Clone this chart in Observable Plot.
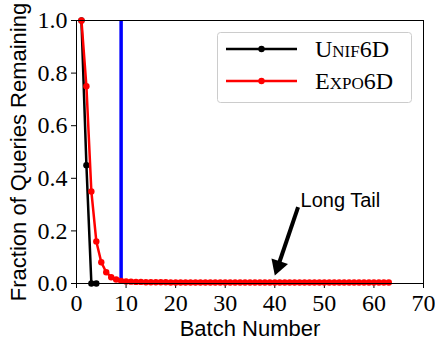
<!DOCTYPE html>
<html>
<head>
<meta charset="utf-8">
<script src="https://cdn.jsdelivr.net/npm/d3@7"></script>
<script src="https://cdn.jsdelivr.net/npm/@observablehq/plot@0.6"></script>
<style>
  body { margin: 0; background: white; }
  #wrap { position: relative; width: 435px; height: 346px; }
  #legend { position: absolute; left: 217px; top: 32px; }
</style>
</head>
<body>
<div id="wrap"></div>
<script>
// ---- data ----
const seriesNames = ["Unif6D", "Expo6D"];
const seriesColors = ["black", "red"];
const unifBatch = [1, 2, 3, 4];
const unifFrac = [1.0, 0.45, 0.0, 0.0];
const expoBatch = [1,2,3,4,5,6,7,8,9,10,11,12,13,14,15,16,17,18,19,20,21,22,23,24,25,26,27,28,29,30,31,32,33,34,35,36,37,38,39,40,41,42,43,44,45,46,47,48,49,50,51,52,53,54,55,56,57,58,59,60,61,62,63];
const expoFrac = [1.0,0.75,0.35,0.16,0.081,0.043,0.024,0.015,0.010,0.008,0.007,0.006,0.006,0.005,0.005,0.005,0.005,0.005,0.004,0.004,0.004,0.004,0.004,0.004,0.004,0.004,0.004,0.004,0.004,0.004,0.004,0.004,0.004,0.004,0.004,0.004,0.004,0.004,0.004,0.004,0.004,0.004,0.004,0.004,0.004,0.004,0.004,0.004,0.004,0.004,0.004,0.004,0.004,0.004,0.004,0.004,0.004,0.004,0.004,0.004,0.004,0.004,0.004];
const markerBatch = [9];
const xTicks = [0, 10, 20, 30, 40, 50, 60, 70];
const yTicks = [0.0, 0.2, 0.4, 0.6, 0.8, 1.0];
const xLabel = "Batch Number";
const yLabel = "Fraction of Queries Remaining";
const noteText = "Long Tail";
const notePos = [45.2, 0.30];
const arrowFrom = [44.7, 0.29];
const arrowHead = [40.67, 0.0665];

const unif = unifBatch.map((b, i) => ({batch: b, frac: unifFrac[i]}));
const expo = expoBatch.map((b, i) => ({batch: b, frac: expoFrac[i]}));

const serif = "'Liberation Serif', 'Times New Roman', serif";
const sans = "'Liberation Sans', Arial, sans-serif";
const fmtY = d3.format(".1f");

const chart = Plot.plot({
  width: 435,
  height: 346,
  marginLeft: 76,
  marginRight: 12,
  marginTop: 20,
  marginBottom: 63,
  style: {background: "white", color: "black", fontSize: "24px"},
  x: {domain: [0, 70]},
  y: {domain: [0, 1]},
  marks: [
    Plot.axisX({ticks: xTicks, tickSize: 5, tickFormat: () => "", label: null}),
    Plot.axisY({ticks: yTicks, tickSize: 5, tickFormat: () => "", label: null}),
    Plot.text(xTicks, {x: d => d, frameAnchor: "bottom", text: d => String(d), dy: 10, lineAnchor: "top", textAnchor: "middle", fontFamily: serif, fontSize: 24}),
    Plot.text(yTicks, {y: d => d, frameAnchor: "left", text: d => fmtY(d), dx: -9, lineAnchor: "middle", textAnchor: "end", fontFamily: serif, fontSize: 24}),
    Plot.ruleX(markerBatch, {stroke: "blue", strokeWidth: 3.5}),
    Plot.line(unif, {x: "batch", y: "frac", stroke: seriesColors[0], strokeWidth: 2.5}),
    Plot.dot(unif, {x: "batch", y: "frac", fill: seriesColors[0], r: 3.2}),
    Plot.line(expo, {x: "batch", y: "frac", stroke: seriesColors[1], strokeWidth: 2.5}),
    Plot.dot(expo, {x: "batch", y: "frac", fill: seriesColors[1], r: 3.2}),
    Plot.frame({stroke: "black", strokeWidth: 1}),
    Plot.text([noteText], {x: () => notePos[0], y: () => notePos[1], text: d => d, textAnchor: "start", lineAnchor: "bottom", fontFamily: sans, fontSize: 20, dy: 2}),
    Plot.link([0], {x1: () => arrowFrom[0], y1: () => arrowFrom[1], x2: () => arrowHead[0], y2: () => arrowHead[1], stroke: "black", strokeWidth: 4}),
    Plot.dot([0], {x: () => arrowHead[0], y: () => arrowHead[1], symbol: "triangle", r: 6.5, fill: "black", rotate: 199}),
    Plot.text([xLabel], {frameAnchor: "bottom", text: d => d, dy: 45, lineAnchor: "middle", fontFamily: sans, fontSize: 22}),
    Plot.text([yLabel], {frameAnchor: "left", text: d => d, rotate: -90, dx: -58, textAnchor: "middle", lineAnchor: "middle", fontFamily: sans, fontSize: 22})
  ]
});

const wrap = document.getElementById("wrap");
wrap.appendChild(chart);

// ---- legend ----
const lw = 195, lh = 71;
const leg = d3.select(wrap).append("svg").attr("id", "legend").attr("width", lw).attr("height", lh);
leg.append("rect").attr("x", 0.5).attr("y", 0.5).attr("width", lw - 1).attr("height", lh - 1)
  .attr("rx", 3).attr("fill", "white").attr("fill-opacity", 0.8).attr("stroke", "#cccccc");
seriesNames.forEach((name, i) => {
  const y = 17 + i * 32;
  leg.append("line").attr("x1", 9).attr("x2", 80).attr("y1", y).attr("y2", y)
    .attr("stroke", seriesColors[i]).attr("stroke-width", 2.5);
  leg.append("circle").attr("cx", 44.5).attr("cy", y).attr("r", 3.2).attr("fill", seriesColors[i]);
  leg.append("text").attr("x", 98).attr("y", y).attr("dy", "0.35em")
    .attr("font-family", serif).attr("font-size", 24).style("font-variant", "small-caps")
    .attr("fill", "black").text(name);
});
</script>
</body>
</html>
